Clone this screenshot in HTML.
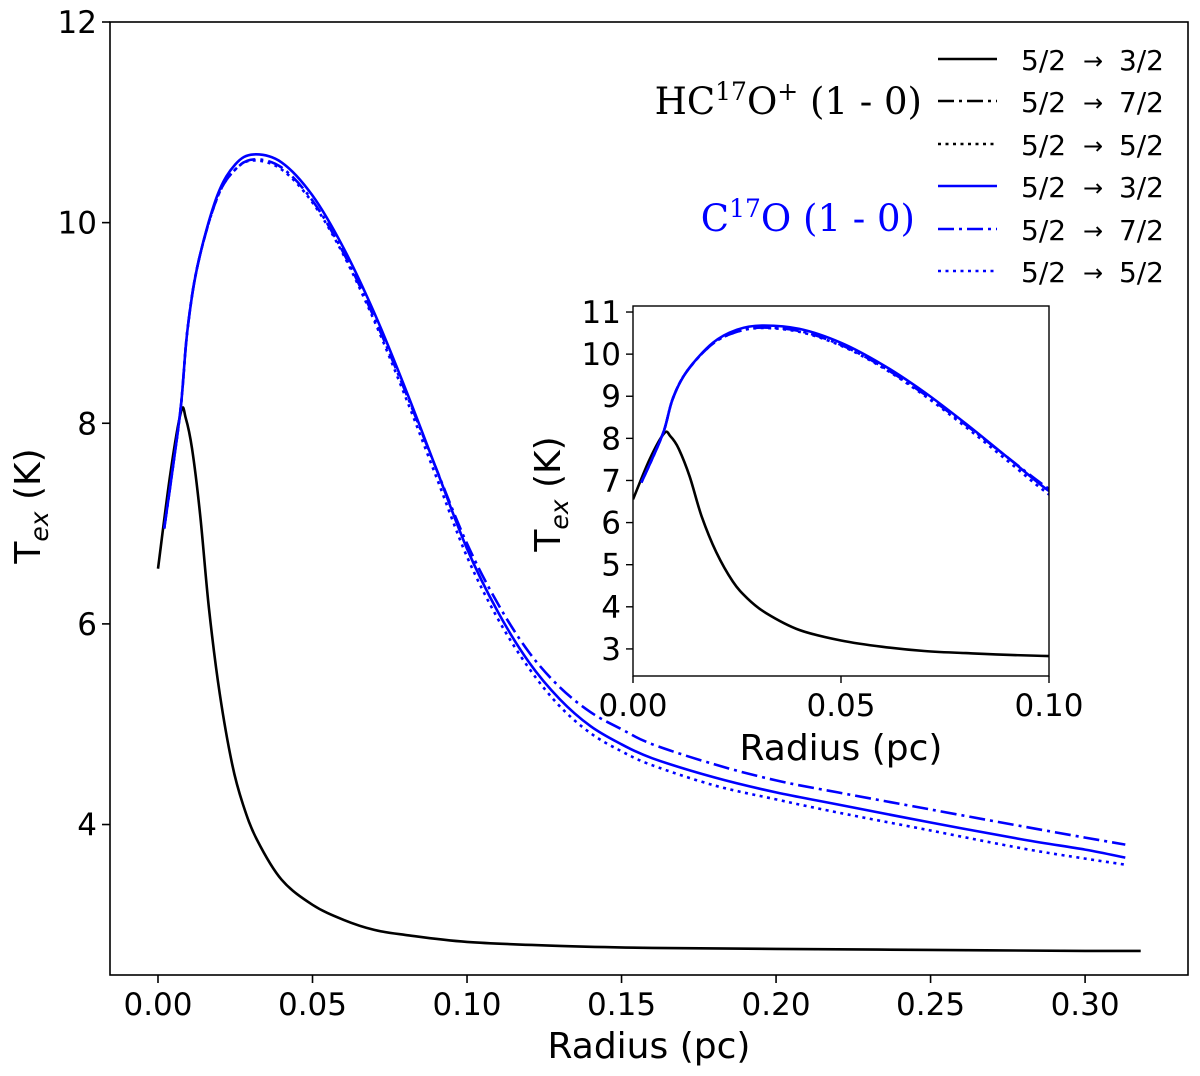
<!DOCTYPE html>
<html><head><meta charset="utf-8"><style>
body{margin:0;background:#fff}
svg{display:block;font-family:"DejaVu Sans","Liberation Sans",sans-serif}
</style></head><body>
<svg id="chart" width="1200" height="1076" viewBox="0 0 1200 1076" xmlns="http://www.w3.org/2000/svg"></svg>
<script>
// ---- data ----
const hcoR = [0.0,0.004,0.0075,0.009,0.011,0.0136,0.0165,0.020,0.024,0.0275,0.032,0.040,0.050,0.060,0.070,0.080,0.100,0.130,0.160,0.200,0.250,0.300,0.318];
const hcoT = [6.55,7.5,8.12,8.05,7.75,7.1,6.15,5.3,4.6,4.2,3.85,3.45,3.2,3.05,2.95,2.9,2.83,2.79,2.77,2.76,2.75,2.74,2.74];
const coR = [0.002,0.005,0.0075,0.0096,0.013,0.0192,0.025,0.031,0.040,0.050,0.060,0.070,0.080,0.090,0.100,0.110,0.120,0.130,0.140,0.150,0.160,0.180,0.200,0.220,0.250,0.280,0.300,0.313];
const coSolid = [6.95,7.6,8.2,8.95,9.6,10.27,10.58,10.68,10.6,10.27,9.75,9.1,8.35,7.55,6.75,6.12,5.62,5.25,4.98,4.8,4.66,4.47,4.32,4.2,4.02,3.85,3.75,3.67];
const coDash = [6.95,7.6,8.2,8.95,9.6,10.25,10.53,10.63,10.55,10.22,9.7,9.05,8.32,7.55,6.8,6.2,5.72,5.37,5.12,4.95,4.8,4.6,4.44,4.32,4.15,3.98,3.87,3.8];
const coDot = [6.95,7.6,8.2,8.95,9.6,10.25,10.53,10.62,10.53,10.2,9.68,9.02,8.27,7.47,6.67,6.05,5.56,5.18,4.91,4.73,4.59,4.39,4.25,4.12,3.94,3.76,3.66,3.6];
const mainXTicks = [0,0.05,0.10,0.15,0.20,0.25,0.30];
const mainXLabels = ["0.00","0.05","0.10","0.15","0.20","0.25","0.30"];
const mainYTicks = [4,6,8,10,12];
const insetXTicks = [0,0.05,0.10];
const insetXLabels = ["0.00","0.05","0.10"];
const insetYTicks = [3,4,5,6,7,8,9,10,11];

const NS="http://www.w3.org/2000/svg";
const svg=document.getElementById('chart');
function mk(tag,attrs,parent,name,text){const e=document.createElementNS(NS,tag);for(const k in attrs)e.setAttribute(k,attrs[k]);


if(text!==undefined)e.textContent=text;(parent||svg).appendChild(e);return e;}

function axes(box,xd,yd){return {x:v=>box.l+(v-xd[0])/(xd[1]-xd[0])*(box.r-box.l), y:v=>box.b-(v-yd[0])/(yd[1]-yd[0])*(box.b-box.t)};}
const DASHDOT="16,5,3,5", DOT="3,4.5";
function smoothPath(pts){let d='M'+pts[0][0].toFixed(1)+','+pts[0][1].toFixed(1);
for(let i=0;i<pts.length-1;i++){const p0=pts[Math.max(0,i-1)],p1=pts[i],p2=pts[i+1],p3=pts[Math.min(pts.length-1,i+2)];
const c1=[p1[0]+(p2[0]-p0[0])/6,p1[1]+(p2[1]-p0[1])/6],c2=[p2[0]-(p3[0]-p1[0])/6,p2[1]-(p3[1]-p1[1])/6];
d+='C'+c1[0].toFixed(1)+','+c1[1].toFixed(1)+' '+c2[0].toFixed(1)+','+c2[1].toFixed(1)+' '+p2[0].toFixed(1)+','+p2[1].toFixed(1);}
return d;}
function series(a,xs,ys,color,dash,name,clip){const pts=xs.map((x,i)=>[a.x(x),a.y(ys[i])]);
const at={d:smoothPath(pts),fill:'none',stroke:color,'stroke-width':2.6,'stroke-linejoin':'round'};if(dash)at['stroke-dasharray']=dash;if(clip)at['clip-path']=clip;mk('path',at,svg,name);}

// main
const M={l:110,r:1188,t:22,b:975};
const ma=axes(M,[-0.01553,0.3333],[2.5,12]);
series(ma,hcoR,hcoT,'#000',null,'hco-5-2-3-2-line');
series(ma,coR,coSolid,'#0000ff',null,'c17o-5-2-3-2-line');
series(ma,coR,coDash,'#0000ff',DASHDOT,'c17o-5-2-7-2-line');
series(ma,coR,coDot,'#0000ff',DOT,'c17o-5-2-5-2-line');
mk('rect',{x:M.l,y:M.t,width:M.r-M.l,height:M.b-M.t,fill:'none',stroke:'#000','stroke-width':1.6},svg,'main-plot-frame');
mainXTicks.forEach((v,i)=>{const x=ma.x(v);mk('line',{x1:x,x2:x,y1:M.b,y2:M.b+8,stroke:'#000','stroke-width':1.6},svg,'x-tick');
mk('text',{x:x,y:M.b+40,'font-size':31,'text-anchor':'middle'},svg,'x-tick-label',mainXLabels[i]);});
mainYTicks.forEach(v=>{const y=ma.y(v);mk('line',{x1:M.l-8,x2:M.l,y1:y,y2:y,stroke:'#000','stroke-width':1.6},svg,'y-tick');
mk('text',{x:M.l-13,y:y+11,'font-size':31,'text-anchor':'end'},svg,'y-tick-label',String(v));});
mk('text',{x:649,y:1058,'font-size':36,'text-anchor':'middle'},svg,'x-axis-title','Radius (pc)');
const yt=mk('text',{x:0,y:0,'font-size':36,'text-anchor':'middle',transform:'translate(40,506) rotate(-90)'},svg,'y-axis-title');
yt.innerHTML='T<tspan font-size="25" font-style="italic" dy="8">ex</tspan><tspan dy="-8"> (K)</tspan>';

// inset
const I={l:633,r:1049,t:306,b:676};
const ia=axes(I,[0,0.1],[2.357,11.143]);
mk('clipPath',{id:'ic'},svg,'inset-clip');
mk('rect',{x:I.l,y:I.t,width:I.r-I.l,height:I.b-I.t},document.getElementById('ic'),'inset-clip-rect');
mk('rect',{x:I.l,y:I.t,width:I.r-I.l,height:I.b-I.t,fill:'#fff'},svg,'inset-bg');
series(ia,hcoR,hcoT,'#000',null,'inset-hco-line','url(#ic)');
series(ia,coR,coSolid,'#0000ff',null,'inset-c17o-solid','url(#ic)');
series(ia,coR,coDash,'#0000ff',DASHDOT,'inset-c17o-dashdot','url(#ic)');
series(ia,coR,coDot,'#0000ff',DOT,'inset-c17o-dotted','url(#ic)');
mk('rect',{x:I.l,y:I.t,width:I.r-I.l,height:I.b-I.t,fill:'none',stroke:'#000','stroke-width':1.4},svg,'inset-frame');
insetXTicks.forEach((v,i)=>{const x=ia.x(v);mk('line',{x1:x,x2:x,y1:I.b,y2:I.b+7,stroke:'#000','stroke-width':1.4},svg,'inset-x-tick');
mk('text',{x:x,y:I.b+40,'font-size':31,'text-anchor':'middle'},svg,'inset-x-tick-label',insetXLabels[i]);});
insetYTicks.forEach(v=>{const y=ia.y(v);mk('line',{x1:I.l-7,x2:I.l,y1:y,y2:y,stroke:'#000','stroke-width':1.4},svg,'inset-y-tick');
mk('text',{x:I.l-12,y:y+11,'font-size':31,'text-anchor':'end'},svg,'inset-y-tick-label',String(v));});
mk('text',{x:841,y:760,'font-size':36,'text-anchor':'middle'},svg,'inset-x-axis-title','Radius (pc)');
const it=mk('text',{x:0,y:0,'font-size':36,'text-anchor':'middle',transform:'translate(560,494) rotate(-90)'},svg,'inset-y-axis-title');
it.innerHTML='T<tspan font-size="25" font-style="italic" dy="8">ex</tspan><tspan dy="-8"> (K)</tspan>';

// legend
const legRows=[[59,'#000',null],[101,'#000',DASHDOT],[144,'#000',DOT],[186,'#0000ff',null],[229,'#0000ff',DASHDOT],[271,'#0000ff',DOT]];
const legFrom=["5/2","5/2","5/2","5/2","5/2","5/2"];
const legTo=["3/2","7/2","5/2","3/2","7/2","5/2"];
legRows.forEach((r,i)=>{const at={x1:938,x2:997,y1:r[0],y2:r[0],stroke:r[1],'stroke-width':2.6};if(r[2])at['stroke-dasharray']=r[2];
mk('line',at,svg,'legend-line');
mk('text',{x:1021,y:r[0]+11,'font-size':28},svg,'legend-label-from',legFrom[i]);
mk('text',{x:1093,y:r[0]+10,'font-size':24,'text-anchor':'middle'},svg,'legend-arrow','\u2192');
mk('text',{x:1164,y:r[0]+11,'font-size':28,'text-anchor':'end'},svg,'legend-label-to',legTo[i]);});
const g1=mk('text',{x:922,y:114,'font-size':37,'text-anchor':'end','font-family':'"DejaVu Serif","Liberation Serif",serif'},svg,'hc17o-group-label');
g1.innerHTML='HC<tspan font-size="25" dy="-14">17</tspan><tspan dy="14">O</tspan><tspan font-size="25" dy="-14">+</tspan><tspan dy="14"> (1 - 0)</tspan>';
const g2=mk('text',{x:915,y:231,'font-size':37,'text-anchor':'end',fill:'#0000ff','font-family':'"DejaVu Serif","Liberation Serif",serif'},svg,'c17o-group-label');
g2.innerHTML='C<tspan font-size="25" dy="-14">17</tspan><tspan dy="14">O (1 - 0)</tspan>';
</script>
</body></html>
